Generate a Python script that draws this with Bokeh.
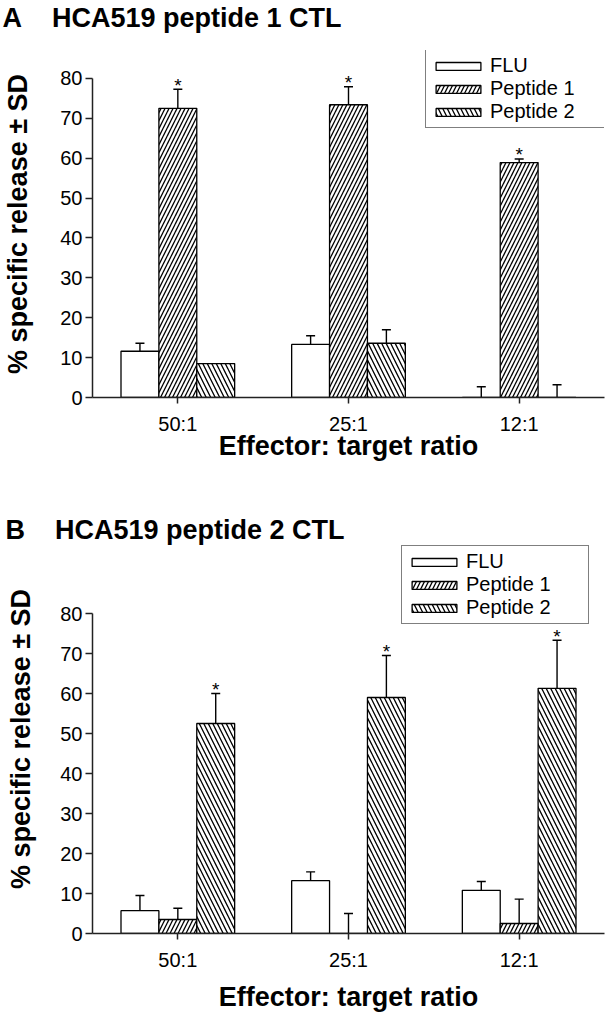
from bokeh.plotting import figure
from bokeh.models import (ColumnDataSource, Range1d, FactorRange, Whisker, TeeHead,
                          Legend, LegendItem, FixedTicker, Title)
from bokeh.transform import dodge
from bokeh.layouts import column
from bokeh.embed import file_html
from bokeh.resources import INLINE
from bokeh.core.properties import value

# ---------------- data ----------------
ratios = ["50:1", "25:1", "12:1"]
series = ["FLU", "Peptide 1", "Peptide 2"]
y_ticks = [0, 10, 20, 30, 40, 50, 60, 70, 80]

# Panel A: HCA519 peptide 1 CTL
a_flu = [11.6, 13.3, 0.0]
a_flu_sd = [2.0, 2.2, 2.7]
a_pep1 = [72.5, 73.4, 58.9]
a_pep1_sd = [4.8, 4.5, 0.9]
a_pep2 = [8.5, 13.6, 0.0]
a_pep2_sd = [0.0, 3.4, 3.2]
a_sig = [[0, 0, 0], [1, 1, 1], [0, 0, 0]]

# Panel B: HCA519 peptide 2 CTL
b_flu = [5.7, 13.2, 10.8]
b_flu_sd = [3.8, 2.2, 2.2]
b_pep1 = [3.5, 0.0, 2.5]
b_pep1_sd = [2.8, 5.0, 6.1]
b_pep2 = [52.5, 59.0, 61.3]
b_pep2_sd = [7.5, 10.5, 12.0]
b_sig = [[0, 0, 0], [0, 0, 0], [1, 1, 1]]

FONT = "Liberation Sans"
NB = "\u00a0"
hatches = [None, "/", "\\"]
hatch_scales = [8, 8, 9]
offsets = [-0.222, 0.0, 0.222]
BAR_W = 0.222


def make_panel(letter, title, vals, sds, sigs, *, height, top_border, bottom_border,
               right_border, y_end, frame_left, spacer,
               xlab_standoff, ylab_standoff, leg_loc, leg_label_w):
    p = figure(x_range=FactorRange(*ratios), y_range=Range1d(0, y_end),
               width=612, height=height, output_backend="svg",
               toolbar_location=None, min_border_left=frame_left,
               min_border_right=right_border, min_border_top=top_border,
               min_border_bottom=bottom_border)
    p.outline_line_color = None
    p.xgrid.visible = False
    p.ygrid.visible = False
    p.background_fill_color = "white"
    p.border_fill_color = "white"

    p.title = Title(text=letter + NB * 4 + title, align="left", offset=-frame_left,
                    standoff=0, text_font=FONT, text_font_size="27px",
                    text_font_style="bold", text_color="black")
    if spacer:
        # blank spacer row between the frame and the panel title
        p.add_layout(Title(text=NB, standoff=spacer, text_font_size="2px",
                           text_color="white"), "above")

    items = []
    for i, name in enumerate(series):
        top = vals[i]
        upper = [v + s for v, s in zip(top, sds[i])]
        src = ColumnDataSource(dict(x=ratios, top=top, upper=upper))
        kw = dict(fill_color="white", line_color="black", line_width=1.3)
        if hatches[i]:
            kw.update(hatch_pattern=hatches[i], hatch_color="black",
                      hatch_scale=hatch_scales[i], hatch_weight=1.3)
        r = p.vbar(x=dodge("x", offsets[i], range=p.x_range), top="top",
                   width=BAR_W, source=src, **kw)
        items.append(LegendItem(label=name, renderers=[r]))
        w = Whisker(base=dodge("x", offsets[i], range=p.x_range), lower="top",
                    upper="upper", source=src, dimension="height",
                    line_color="black", line_width=1.4,
                    upper_head=TeeHead(size=9, line_color="black", line_width=1.4),
                    lower_head=None)
        p.add_layout(w)
        sx = [r_ for r_, s in zip(ratios, sigs[i]) if s]
        sy = [u for u, s in zip(upper, sigs[i]) if s]
        if sx:
            ssrc = ColumnDataSource(dict(x=sx, y=sy, t=["*"] * len(sx)))
            p.text(x=dodge("x", offsets[i], range=p.x_range), y="y", text="t",
                   source=ssrc, text_align="center", text_baseline="alphabetic",
                   y_offset=-4, text_font=value(FONT), text_font_size="19px",
                   text_color="black")

    leg = Legend(items=items, location=leg_loc, orientation="vertical",
                 border_line_color="black", border_line_width=1.3,
                 background_fill_color="white", background_fill_alpha=1.0,
                 label_text_font=FONT, label_text_font_size="20px",
                 label_text_color="black", glyph_width=56, glyph_height=10,
                 label_height=23, spacing=0, padding=4, margin=0,
                 label_standoff=4, label_width=leg_label_w)
    p.add_layout(leg)

    for ax in (p.xaxis[0], p.yaxis[0]):
        ax.axis_line_color = "#222222"
        ax.axis_line_width = 1.5
        ax.major_tick_line_color = "#222222"
        ax.major_tick_line_width = 1.5
        ax.major_tick_in = 0
        ax.minor_tick_line_color = None
        ax.major_label_text_font = FONT
        ax.major_label_text_font_size = "20px"
        ax.major_label_text_color = "black"
        ax.axis_label_text_font = FONT
        ax.axis_label_text_font_style = "bold"
        ax.axis_label_text_color = "black"
        ax.axis_label_text_font_size = "27px"
    p.yaxis[0].ticker = FixedTicker(ticks=y_ticks)
    p.yaxis[0].bounds = (0, 80)
    p.yaxis[0].major_tick_out = 7
    p.yaxis[0].major_label_standoff = 3
    p.yaxis[0].axis_label = "% specific release \u00b1 SD"
    p.yaxis[0].axis_label_standoff = ylab_standoff
    p.xaxis[0].major_tick_out = 6
    p.xaxis[0].major_label_standoff = 9
    p.xaxis[0].axis_label = "Effector: target ratio"
    p.xaxis[0].axis_label_standoff = xlab_standoff
    return p


pA = make_panel("A", "HCA519 peptide 1 CTL",
                [a_flu, a_pep1, a_pep2], [a_flu_sd, a_pep1_sd, a_pep2_sd], a_sig,
                height=475, top_border=49, bottom_border=78, right_border=8,
                y_end=87, frame_left=90, spacer=14,
                xlab_standoff=-7, ylab_standoff=24,
                leg_loc=(333, 269), leg_label_w=113)
pB = make_panel("B", "HCA519 peptide 2 CTL",
                [b_flu, b_pep1, b_pep2], [b_flu_sd, b_pep1_sd, b_pep2_sd], b_sig,
                height=539, top_border=69, bottom_border=81, right_border=1,
                y_end=97.25, frame_left=87, spacer=0,
                xlab_standoff=8, ylab_standoff=21,
                leg_loc=(309, 309), leg_label_w=118)

layout = column(pA, pB, spacing=0)
open("out.html", "w").write(file_html(layout, INLINE))
